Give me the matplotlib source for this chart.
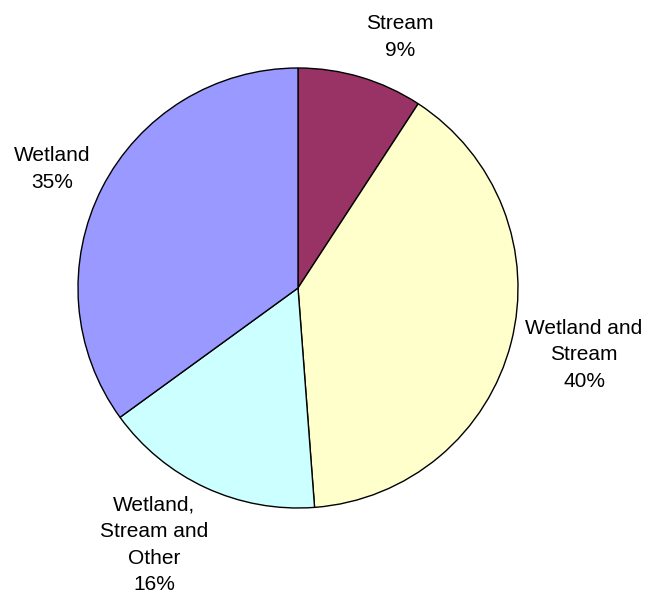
import matplotlib.pyplot as plt

# share of sites by feature type
labels = ['Stream', 'Wetland and\nStream', 'Wetland,\nStream and\nOther', 'Wetland']
shares = [9.2, 39.6, 16.2, 35.0]
colors = ['#993366', '#FFFFCC', '#CCFFFF', '#9999FF']

fig = plt.figure(figsize=(6.5, 5.99), dpi=100)
ax = fig.add_axes([0, 0, 1, 1])
plt.rcParams['font.family'] = ['Liberation Sans', 'DejaVu Sans']

wedges, _ = ax.pie(shares, colors=colors, startangle=90, counterclock=False,
                   center=(298, 311), radius=220, frame=True,
                   wedgeprops=dict(edgecolor='black', linewidth=1))

# label positions (pixels, y from top)
label_pos = [(400, 37), (584, 355), (154, 545), (52, 169)]
for lab, s, (x, y) in zip(labels, shares, label_pos):
    ax.text(x, 599 - y, f'{lab}\n{s:.0f}%', ha='center', va='center',
            fontsize=15, linespacing=1.5, family=['Liberation Sans', 'DejaVu Sans'])

ax.set_xlim(0, 650)
ax.set_ylim(0, 599)
ax.set_aspect('equal')
ax.axis('off')

fig.savefig('out.png', dpi=100)
